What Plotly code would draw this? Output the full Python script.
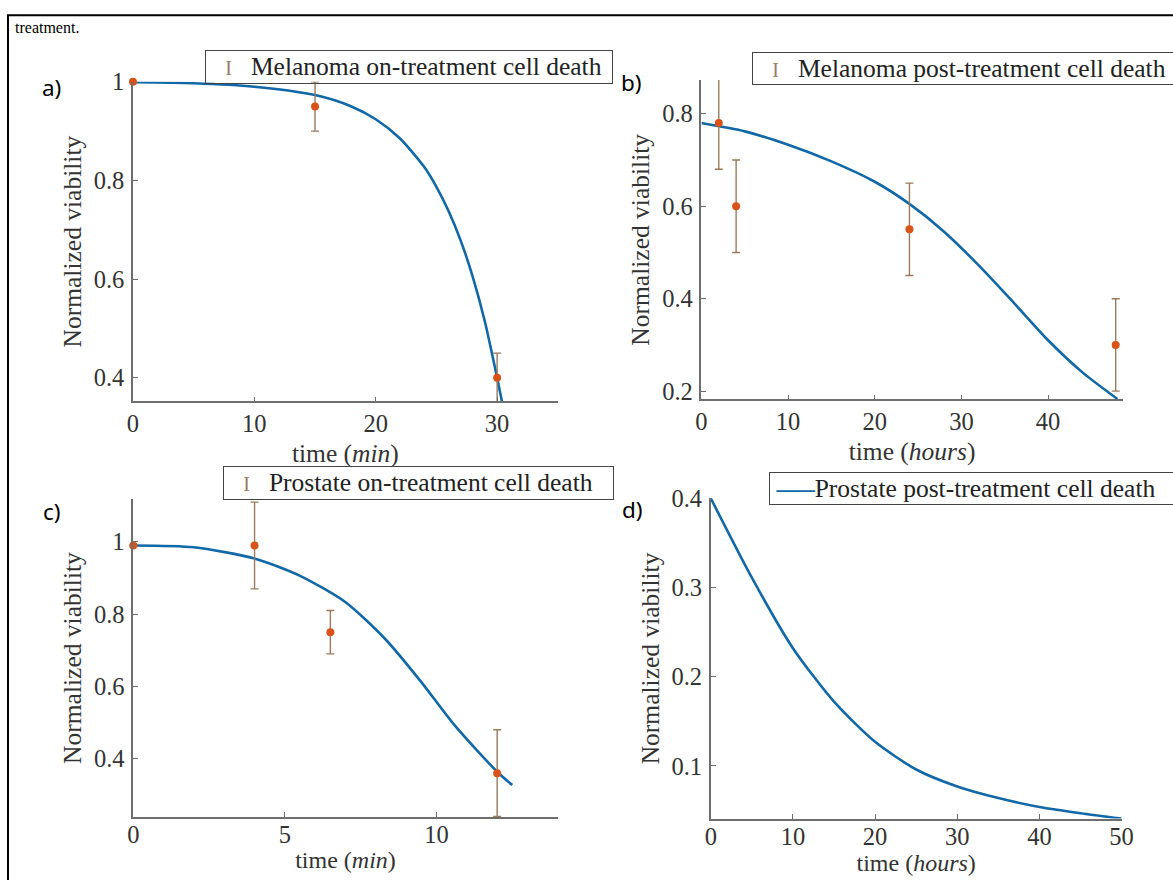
import plotly.graph_objects as go

W, H = 1173, 880

# ---------------- data ----------------
# a) Melanoma on-treatment (time in min)
a_t = [0, 15, 30]
a_v = [1.0, 0.95, 0.40]
a_err = [0.0, 0.05, 0.05]
a_fit_t = [0, 5, 10, 15, 18, 20, 22, 24, 25, 26, 27, 28, 29, 30, 30.4]
a_fit_v = [0.999, 0.997, 0.990, 0.973, 0.950, 0.924, 0.885, 0.827, 0.787, 0.738, 0.678, 0.604, 0.513, 0.400, 0.352]

# b) Melanoma post-treatment (time in hours)
b_t = [2, 4, 24, 47.8]
b_v = [0.78, 0.60, 0.55, 0.30]
b_err = [0.10, 0.10, 0.10, 0.10]
b_fit_t = [0, 5, 10, 15, 20, 24, 28, 32, 36, 40, 44, 48]
b_fit_v = [0.78, 0.762, 0.733, 0.697, 0.653, 0.605, 0.545, 0.472, 0.392, 0.310, 0.240, 0.183]

# c) Prostate on-treatment (time in min)
c_t = [0, 4, 6.5, 12]
c_v = [0.99, 0.99, 0.75, 0.36]
c_err = [0.0, 0.12, 0.06, 0.12]
c_fit_t = [0, 2, 4, 5.5, 7, 8.3, 9.5, 10.6, 12, 12.5]
c_fit_v = [0.99, 0.985, 0.954, 0.906, 0.833, 0.732, 0.612, 0.492, 0.364, 0.327]

# d) Prostate post-treatment (time in hours)
d_fit_t = [0, 5, 10, 15, 20, 25, 30, 35, 40, 45, 50]
d_fit_v = [0.400, 0.311, 0.232, 0.172, 0.127, 0.096, 0.077, 0.064, 0.054, 0.047, 0.041]

# tick labels
a_xticks = [0, 10, 20, 30]
a_yticks = [0.4, 0.6, 0.8, 1.0]
a_ytext = ["0.4", "0.6", "0.8", "1"]
b_xticks = [0, 10, 20, 30, 40]
b_yticks = [0.2, 0.4, 0.6, 0.8]
b_ytext = ["0.2", "0.4", "0.6", "0.8"]
c_xticks = [0, 5, 10]
c_yticks = [0.4, 0.6, 0.8, 1.0]
c_ytext = ["0.4", "0.6", "0.8", "1"]
d_xticks = [0, 10, 20, 30, 40, 50]
d_yticks = [0.1, 0.2, 0.3, 0.4]
d_ytext = ["0.1", "0.2", "0.3", "0.4"]

legend_names = [
    "Melanoma on-treatment cell death",
    "Melanoma post-treatment cell death",
    "Prostate on-treatment cell death",
    "Prostate post-treatment cell death",
]

# ---------------- styles ----------------
LINE_C = "#1168a8"
MARK_C = "#d95319"
ERR_C = "#9a7a5e"
AX_C = "#6e6e6e"
TXT_C = "#333333"
SERIF = "Liberation Serif"
NB = "\u00a0"

# mapping from target page pixels to figure fractions
SX, OX = 0.985, 6.0
SY, OY = 0.9815, 12.8


def px_x(p):
    return ((p - OX) / SX) / W


def px_y(p):
    return 1 - ((p - OY) / SY) / H


fig = go.Figure()


def add_panel(idx, fit_t, fit_v, pts=None):
    xa = "x" if idx == 1 else f"x{idx}"
    ya = "y" if idx == 1 else f"y{idx}"
    fig.add_trace(go.Scatter(
        x=fit_t, y=fit_v, mode="lines", xaxis=xa, yaxis=ya,
        line=dict(color=LINE_C, width=2.6, shape="spline", smoothing=0.7),
        showlegend=False,
    ))
    if pts is not None:
        t, v, e = pts
        fig.add_trace(go.Scatter(
            x=t, y=v, mode="markers", xaxis=xa, yaxis=ya,
            marker=dict(color=MARK_C, size=8),
            error_y=dict(type="data", array=e, color=ERR_C, thickness=1.4, width=4),
            cliponaxis=False, showlegend=False,
        ))


add_panel(1, a_fit_t, a_fit_v, (a_t, a_v, a_err))
add_panel(2, b_fit_t, b_fit_v, (b_t, b_v, b_err))
add_panel(3, c_fit_t, c_fit_v, (c_t, c_v, c_err))
add_panel(4, d_fit_t, d_fit_v, None)


def axis(domain, rng, tickvals, ticktext=None, title=None, anchor=None, is_y=False,
         standoff=6, tls=None, tsize=25.5):
    d = dict(
        domain=domain, range=rng, tickvals=tickvals,
        showline=True, linecolor=AX_C, linewidth=1.5,
        ticks="inside", ticklen=5, tickwidth=1, tickcolor=AX_C,
        showgrid=False, zeroline=False, mirror=False,
        tickfont=dict(family=SERIF, size=24.5, color=TXT_C),
        anchor=anchor, fixedrange=True,
    )
    if tls is None:
        tls = 2 if is_y else -1
    d["ticklabelstandoff"] = tls
    if ticktext is not None:
        d["ticktext"] = ticktext
    if title is not None:
        d["title"] = dict(text=title, font=dict(family=SERIF, size=tsize, color=TXT_C), standoff=standoff)
    return d


ylab = "Normalized viability"
fig.update_layout(
    xaxis=axis([px_x(133), px_x(558)], [0, 35], a_xticks, None, "time (<i>min</i>)", "y", standoff=9),
    yaxis=axis([px_y(402), px_y(81.7)], [0.352, 1.0], a_yticks, a_ytext, ylab, "x", True, 5),
    xaxis2=axis([px_x(701.7), px_x(1123)], [0, 48.6], b_xticks, None, "time (<i>hours</i>)", "y2", standoff=9),
    yaxis2=axis([px_y(400), px_y(80)], [0.182, 0.873], b_yticks, b_ytext, ylab, "x2", True, 5),
    xaxis3=axis([px_x(133.3), px_x(558)], [0, 14], c_xticks, None, "time (<i>min</i>)", "y3",
                standoff=4, tls=-5, tsize=24),
    yaxis3=axis([px_y(818.3), px_y(500)], [0.239, 1.118], c_yticks, c_ytext, ylab, "x3", True, 5),
    xaxis4=axis([px_x(711), px_x(1122)], [0, 50], d_xticks, None, "time (<i>hours</i>)", "y4",
                standoff=4, tls=-5, tsize=24),
    yaxis4=axis([px_y(820), px_y(499)], [0.041, 0.4], d_yticks, d_ytext, ylab, "x4", True, 5),
)

annotations = []

# legend boxes (left, top, width, height in page pixels)
leg_boxes = [(205, 50, 402, 33), (752.7, 51.7, 419, 32), (222.7, 467, 385, 33), (769, 473, 403, 32)]
for i, (name, (lx, ty, bw, bh)) in enumerate(zip(legend_names, leg_boxes)):
    if i < 3:
        glyph = f'<span style="color:{ERR_C};font-size:20px">I</span>'
        txt = NB * 3 + glyph + NB * 3 + name
    else:
        glyph = f'<span style="color:{LINE_C}"><b>\u2014\u2013</b></span>'
        txt = NB + glyph + name
    annotations.append(dict(
        text=txt, x=px_x(lx), y=px_y(ty), xref="paper", yref="paper",
        xanchor="left", yanchor="top", showarrow=False, align="left", valign="middle",
        width=bw / SX - 2, height=bh / SY - 2,
        bordercolor="#444444", borderwidth=1, borderpad=0,
        bgcolor="rgba(255,255,255,0)",
        font=dict(family=SERIF, size=25.5, color="#222222"),
    ))

# panel labels
panel_labels = [("a)", 52, 87), ("b)", 632, 82), ("c)", 52, 512), ("d)", 633, 510)]
for txt, xp, yp in panel_labels:
    annotations.append(dict(
        text=txt, x=px_x(xp), y=px_y(yp), xref="paper", yref="paper",
        xanchor="center", yanchor="middle", showarrow=False,
        font=dict(family="Noto Sans", size=22.5, color="black"),
    ))

# caption fragment from the page above the figure
annotations.append(dict(
    text="treatment.", x=px_x(14), y=px_y(18), xref="paper", yref="paper",
    xanchor="left", yanchor="top", showarrow=False, borderpad=0,
    font=dict(family=SERIF, size=16, color="black"),
))

fig.update_layout(
    width=W, height=H,
    margin=dict(l=0, r=0, t=0, b=0),
    paper_bgcolor="white", plot_bgcolor="white",
    annotations=annotations,
    showlegend=False,
    shapes=[dict(
        type="rect", xref="paper", yref="paper",
        x0=px_x(8), x1=1.05, y0=-0.05, y1=px_y(15),
        line=dict(color="black", width=2), fillcolor="rgba(0,0,0,0)",
    )],
)

fig.write_html("out.html")
